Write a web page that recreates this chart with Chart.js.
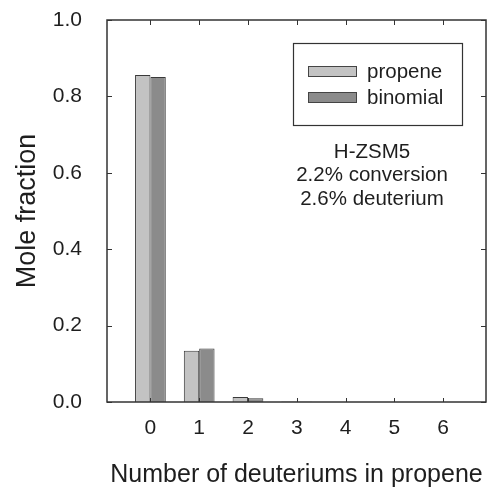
<!DOCTYPE html>
<html>
<head>
<meta charset="utf-8">
<script src="https://cdn.jsdelivr.net/npm/chart.js@4"></script>
<style>
  html, body { margin: 0; padding: 0; background: #fff; }
  #wrap { width: 487px; height: 488px; }
</style>
</head>
<body>
<div id="wrap"><canvas id="chart" width="487" height="488"></canvas></div>
<script>
/* ---------- data ---------- */
const categories = [0, 1, 2, 3, 4, 5, 6];
const propene = [0.856, 0.134, 0.013, 0.001, 0, 0, 0];
const binomial = [0.851, 0.140, 0.010, 0.0005, 0, 0, 0];
const yTicks = [0, 0.2, 0.4, 0.6, 0.8, 1.0];
const seriesNames = ['propene', 'binomial'];
const noteLines = ['H-ZSM5', '2.2% conversion', '2.6% deuterium'];

const FONT = '"Liberation Sans", Arial, sans-serif';
const INK = '#1e1e1e';
const FRAME = '#333';

// frame + inward tick marks, legend box and the annotation
const decor = {
    id: 'decor',
    afterDatasetsDraw(chart) {
        const { ctx, chartArea: a, scales } = chart;
        ctx.save();
        ctx.strokeStyle = FRAME;
        ctx.lineWidth = 1.5;
        ctx.strokeRect(a.left, a.top, a.right - a.left, a.bottom - a.top);

        ctx.lineWidth = 1;
        scales.x.ticks.forEach(t => {
            const px = Math.round(scales.x.getPixelForValue(t.value)) + 0.5;
            ctx.beginPath();
            ctx.moveTo(px, a.top); ctx.lineTo(px, a.top + 5);
            ctx.moveTo(px, a.bottom); ctx.lineTo(px, a.bottom - 4);
            ctx.stroke();
        });
        scales.y.ticks.forEach(t => {
            const py = Math.round(scales.y.getPixelForValue(t.value)) + 0.5;
            ctx.beginPath();
            ctx.moveTo(a.left, py); ctx.lineTo(a.left + 5, py);
            ctx.moveTo(a.right, py); ctx.lineTo(a.right - 5, py);
            ctx.stroke();
        });

        // legend
        ctx.strokeStyle = FRAME;
        ctx.lineWidth = 1.2;
        ctx.strokeRect(293.5, 43.5, 169, 82);
        ctx.font = '20.5px ' + FONT;
        ctx.textBaseline = 'middle';
        ctx.textAlign = 'left';
        chart.data.datasets.forEach((ds, i) => {
            const y = 71 + i * 26;
            ctx.fillStyle = ds.backgroundColor;
            ctx.fillRect(308, y - 5, 49, 10);
            ctx.strokeStyle = '#444';
            ctx.lineWidth = 1;
            ctx.strokeRect(308.5, y - 4.5, 48, 10);
            ctx.fillStyle = INK;
            ctx.fillText(ds.label, 367, y + 1);
        });

        // annotation
        ctx.textAlign = 'center';
        noteLines.forEach((s, i) => ctx.fillText(s, 372, 152 + i * 23.5));
        ctx.restore();
    }
};

new Chart(document.getElementById('chart'), {
    type: 'bar',
    data: {
        labels: categories,
        datasets: [
            { label: seriesNames[0], data: propene, backgroundColor: '#c3c3c3',
              borderColor: '#3a3a3a', borderWidth: 1 },
            { label: seriesNames[1], data: binomial, backgroundColor: '#8b8b8b',
              borderColor: '#3a3a3a', borderWidth: 1 }
        ]
    },
    options: {
        responsive: false,
        animation: false,
        layout: { padding: { left: 0, right: 1, top: 20, bottom: 0 } },
        datasets: { bar: { categoryPercentage: 0.63, barPercentage: 1.0 } },
        plugins: { legend: { display: false }, tooltip: { enabled: false } },
        scales: {
            x: {
                type: 'linear',
                min: -0.89, max: 6.88,
                offset: false,
                grid: { display: false, drawTicks: false },
                border: { display: false },
                afterBuildTicks: s => { s.ticks = categories.map(v => ({ value: v })); },
                ticks: { color: INK, font: { family: FONT, size: 21 }, padding: 14,
                         callback: v => String(v) },
                title: { display: true, text: 'Number of deuteriums in propene',
                         color: INK, font: { family: FONT, size: 25, lineHeight: 1.0 },
                         padding: { top: 0, bottom: 0 } },
                afterFit: s => { s.height = 86; s.paddingLeft = 0; s.paddingRight = 0; }
            },
            y: {
                min: 0, max: 1,
                grid: { display: false, drawTicks: false },
                border: { display: false },
                afterBuildTicks: s => { s.ticks = yTicks.map(v => ({ value: v })); },
                ticks: { color: INK, font: { family: FONT, size: 21 }, padding: 25,
                         callback: v => v.toFixed(1) },
                title: { display: true, text: 'Mole fraction',
                         color: INK, font: { family: FONT, size: 27 }, padding: { top: 11, bottom: 0 } },
                afterFit: s => { s.width = 107; s.paddingTop = 0; s.paddingBottom = 0; }
            }
        }
    },
    plugins: [decor]
});
</script>
</body>
</html>
